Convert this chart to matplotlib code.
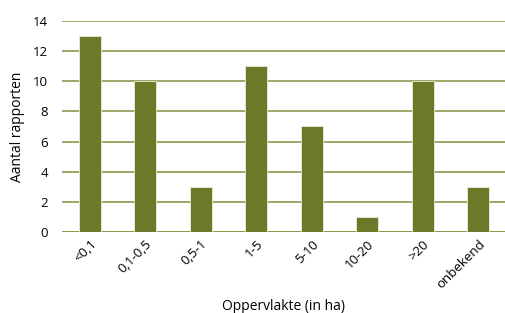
import matplotlib.pyplot as plt
import numpy as np

categories = ["<0,1", "0,1-0,5", "0,5-1", "1-5", "5-10", "10-20", ">20", "onbekend"]
counts = [13, 10, 3, 11, 7, 1, 10, 3]
yticks = [0, 2, 4, 6, 8, 10, 12, 14]

bar_color = "#6b7a29"
grid_color = "#8a9a4c"

plt.rcParams['font.family'] = ['Open Sans', 'DejaVu Sans']

fig = plt.figure(figsize=(5.06, 3.13), dpi=100)
ax = fig.add_axes([0.1225, 0.259, 0.8775, 0.674])

x = np.arange(len(categories))
ax.bar(x, counts, width=0.4, color=bar_color, edgecolor="#e8ecd8", linewidth=0.6, zorder=3)

ax.set_xlim(-0.5, len(categories) - 0.5)
ax.set_ylim(0, 14)
ax.set_yticks(yticks)
ax.yaxis.grid(True, color=grid_color, linewidth=1.2, zorder=0)
ax.tick_params(axis='y', length=0, labelsize=9.5, pad=10)
ax.tick_params(axis='x', length=0, labelsize=9.5, pad=4)

ax.set_xticks(x)
ax.set_xticklabels(categories, rotation=45, ha='right', rotation_mode='anchor')

for s in ax.spines.values():
    s.set_visible(False)
ax.axhline(0, color=grid_color, linewidth=1.4, zorder=2)

ax.set_ylabel("Aantal rapporten", fontsize=10, labelpad=6)
ax.set_xlabel("Oppervlakte (in ha)", fontsize=10, labelpad=6)

fig.savefig("out.png", dpi=100)
